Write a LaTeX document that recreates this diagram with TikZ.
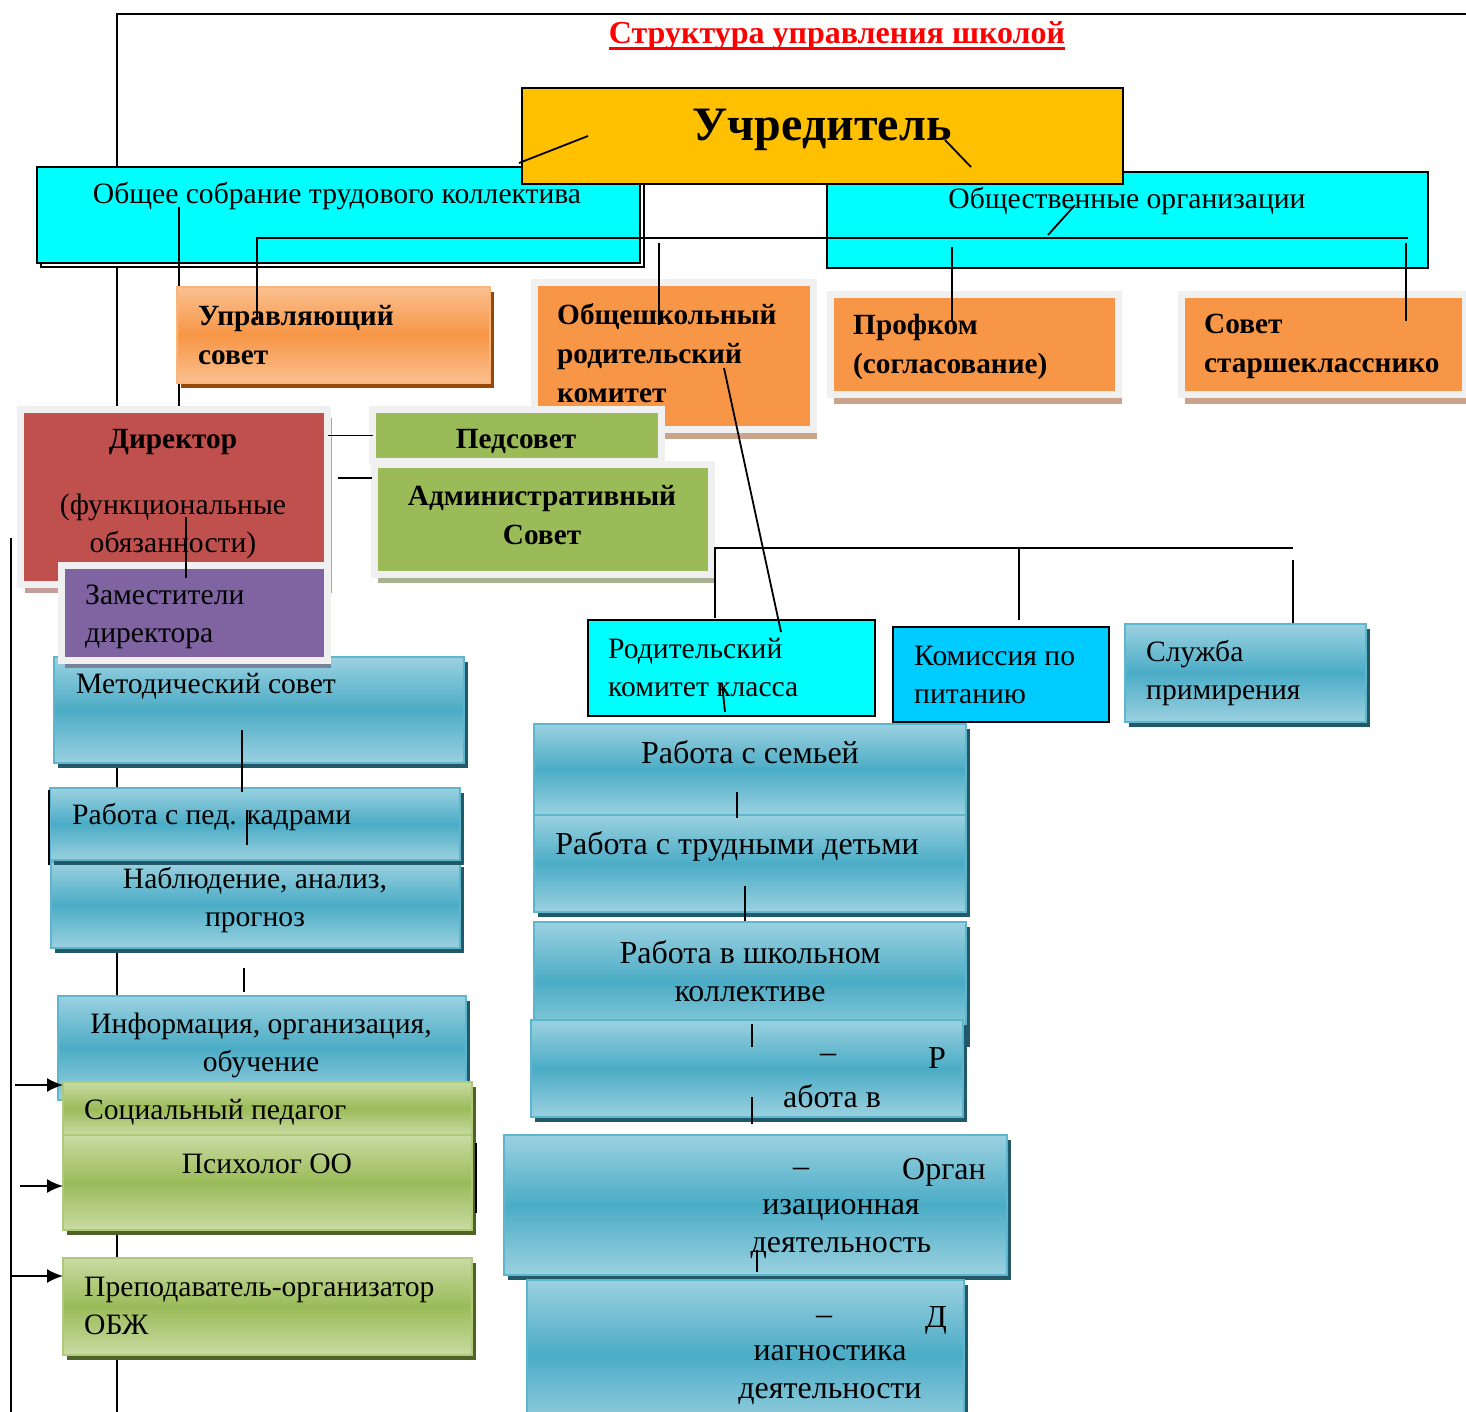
\documentclass[tikz,border=0pt]{standalone}
\usepackage{fontspec}
\setmainfont{Liberation Serif}
\usetikzlibrary{shadows, arrows.meta}

\definecolor{cGold}{HTML}{FFC000}
\definecolor{cAqua}{HTML}{00FFFF}
\definecolor{cSky}{HTML}{00CCFF}
\definecolor{cOrng}{HTML}{F79646}
\definecolor{cOrngL}{HTML}{FAC090}
\definecolor{cOrngD}{HTML}{984807}
\definecolor{cTanSh}{HTML}{C9A38A}
\definecolor{cFrm}{HTML}{F0F0F0}
\definecolor{cRed}{HTML}{C0504D}
\definecolor{cRedSh}{HTML}{C59E9C}
\definecolor{cPurp}{HTML}{8064A2}
\definecolor{cPurpSh}{HTML}{76839A}
\definecolor{cGrn}{HTML}{9BBB59}
\definecolor{cGrnL}{HTML}{C9DBA3}
\definecolor{cGrnD}{HTML}{4F6228}
\definecolor{cGrnSh}{HTML}{A9B194}
\definecolor{cBlu}{HTML}{4BACC6}
\definecolor{cBluL}{HTML}{9BD1E0}
\definecolor{cBluB}{HTML}{5DB6CE}
\definecolor{cBluD}{HTML}{215968}

\tikzset{
  box/.style={anchor=north west, inner sep=0pt, outer sep=0pt},
  plainbox/.style={box, draw=black, line width=1.8pt},
  framebox/.style={box, draw=cFrm, line width=7pt},
  bluebox/.style={box, draw=cBluB, line width=1.5pt,
    top color=cBluL, bottom color=cBluL, middle color=cBlu,
    drop shadow={shadow xshift=4pt, shadow yshift=-5pt, fill=cBluD, opacity=1}},
  greenbox/.style={box, draw=cGrn!80!white, line width=1.5pt,
    top color=cGrnL, bottom color=cGrnL, middle color=cGrn,
    drop shadow={shadow xshift=4pt, shadow yshift=-5pt, fill=cGrnD, opacity=1}},
  orangebox/.style={box, draw=cOrng!70!white, line width=1.5pt,
    top color=cOrngL, bottom color=cOrngL, middle color=cOrng,
    drop shadow={shadow xshift=4pt, shadow yshift=-5pt, fill=cOrngD, opacity=1}},
  txt/.style={font=\fontsize{29.6}{38}\selectfont, inner sep=0pt},
  rtxt/.style={font=\fontsize{32}{38}\selectfont, inner sep=0pt},
  btxt/.style={font=\fontsize{29.3}{39}\selectfont\bfseries, inner sep=0pt},
  wire/.style={line width=1.8pt},
  arr/.style={wire, -{Latex[length=16pt, width=14pt]}}
}

\begin{document}
\begin{tikzpicture}[x=1pt, y=-1pt]
\useasboundingbox (0,0) rectangle (1466,1412);

% frame lines
\coordinate (fa) at (117,1412);
\coordinate (fb) at (117,14);
\coordinate (fc) at (1466,14);
\draw[wire] (fa) -- (fb) -- (fc);
\coordinate (la) at (11,538);
\coordinate (lb) at (11,1412);
\draw[wire] (la) -- (lb);

\node[font=\fontsize{32}{36}\selectfont\bfseries, text=red, inner sep=0pt] (title) at (837,36) {Структура управления школой};
\draw[red, line width=3pt] ([yshift=-5pt]title.base west) -- ([yshift=-5pt]title.base east);

% top level
\node[plainbox, fill=cAqua, minimum width=603, minimum height=96,
  drop shadow={shadow xshift=4pt, shadow yshift=-4pt, fill=white, draw=black, opacity=1}] (obsch) at (37,167) {};
\node[plainbox, fill=cAqua, minimum width=601, minimum height=96] (obshorg) at (827,172) {};
\node[plainbox, fill=cGold, minimum width=601, minimum height=96] (uchr) at (522,88) {};
\node[txt] (obschT) at (337,196) {Общее собрание трудового коллектива};
\node[txt] (obshorgT) at (1127,201) {Общественные организации};
\node[font=\fontsize{48}{52}\selectfont\bfseries] (uchrT) at (822,130) {Учредитель};

\coordinate (s1) at (179,207);
\coordinate (s2) at (179,433);
\draw[wire] (s1) -- (s2);

% councils
\node[orangebox, minimum width=313, minimum height=96] (upr) at (177,287) {};
\node[btxt, align=left, anchor=west] (uprT) at (198,335) {Управляющий\\совет};

\node[framebox, fill=cOrng, minimum width=279, minimum height=147,
  drop shadow={shadow xshift=3pt, shadow yshift=-9pt, fill=cTanSh, opacity=1}] (obshrod) at (534.5,282.5) {};
\node[btxt, align=left, anchor=west] (obshrodT) at (557,353) {Общешкольный\\родительский\\комитет};

\node[framebox, fill=cOrng, minimum width=288, minimum height=100,
  drop shadow={shadow xshift=3pt, shadow yshift=-9pt, fill=cTanSh, opacity=1}] (profkom) at (830.5,294.5) {};
\node[btxt, align=left, anchor=west] (profkomT) at (853,347) {Профком\\(согласование)};

\node[framebox, fill=cOrng, minimum width=284, minimum height=100,
  drop shadow={shadow xshift=3pt, shadow yshift=-9pt, fill=cTanSh, opacity=1}] (starsh) at (1181.5,294.5) {};
\node[btxt, align=left, anchor=west] (starshT) at (1204,346) {Совет\\старшекласснико};

% connectors of the top level
\coordinate (h1) at (257,238);
\coordinate (h2) at (1408,238);
\coordinate (h3) at (257,320);
\draw[wire] (h3) -- (h1) -- (h2);
\coordinate (v1) at (659,243);
\coordinate (v2) at (659,325);
\draw[wire] (v1) -- (v2);
\coordinate (v3) at (952,247);
\coordinate (v4) at (952,321);
\draw[wire] (v3) -- (v4);
\coordinate (v5) at (1406,243);
\coordinate (v6) at (1406,321);
\draw[wire] (v5) -- (v6);
\coordinate (d1) at (519,163);
\coordinate (d2) at (588,136);
\draw[wire] (d1) -- (d2);
\coordinate (d3) at (945,140);
\coordinate (d4) at (971,167);
\draw[wire] (d3) -- (d4);
\coordinate (d5) at (1075,205);
\coordinate (d6) at (1048,235);
\draw[wire] (d5) -- (d6);

% methodical council (under the deputies)
\node[bluebox, minimum width=410, minimum height=106] (metod) at (54,657) {};
\node[txt, anchor=west] (metodT) at (76,686) {Методический совет};

% director
\node[framebox, fill=cRed, minimum width=307, minimum height=175,
  drop shadow={shadow xshift=4pt, shadow yshift=-8pt, fill=cRedSh, opacity=1}] (dir) at (20.5,409.5) {};
\node[btxt] (dirT) at (173,442) {Директор};
\node[txt, align=center] (dirF) at (173,526) {(функциональные\\обязанности)};

\node[framebox, fill=cGrn, minimum width=289, minimum height=52] (ped) at (372.5,409.5) {};
\node[btxt] (pedT) at (516,441) {Педсовет};
\node[framebox, fill=cGrn, minimum width=337, minimum height=110,
  drop shadow={shadow xshift=3pt, shadow yshift=-8pt, fill=cGrnSh, opacity=1}] (adm) at (374.5,464.5) {};
\node[btxt, align=center] (admT) at (542,515) {Административный\\Совет};

\node[framebox, fill=cPurp, minimum width=266, minimum height=95,
  drop shadow={shadow xshift=3pt, shadow yshift=-7pt, fill=cPurpSh, opacity=1}] (zam) at (61.5,565.5) {};
\node[txt, align=left, anchor=west] (zamT) at (85,617) {Заместители\\директора};

\coordinate (z1) at (186,517);
\coordinate (z2) at (186,578);
\draw[wire] (z1) -- (z2);
\draw[wire] (dir.east |- ped.west) -- (ped.west);
\coordinate (a1) at (338,478);
\coordinate (a2) at (372,478);
\draw[wire] (a1) -- (a2);

% lines under the administrative council
\coordinate (b1) at (715,618);
\coordinate (b2) at (715,548);
\coordinate (b3) at (1293,548);
\draw[wire] (b1) -- (b2) -- (b3);
\coordinate (b4) at (1019,548);
\coordinate (b5) at (1019,620);
\draw[wire] (b4) -- (b5);
\coordinate (b6) at (1293,560);
\coordinate (b7) at (1293,628);
\draw[wire] (b6) -- (b7);

\node[plainbox, fill=cAqua, minimum width=287, minimum height=96] (rodkl) at (588,620) {};
\node[txt, align=left, anchor=west] (rodklT) at (608,668) {Родительский\\комитет класса};
\node[plainbox, fill=cSky, minimum width=216, minimum height=95] (pitan) at (893,627) {};
\node[txt, align=left, anchor=west] (pitanT) at (914,675) {Комиссия по\\питанию};
\node[bluebox, minimum width=241, minimum height=98] (primir) at (1125,624) {};
\node[txt, align=left, anchor=west] (primirT) at (1146,673) {Служба\\примирения};

\coordinate (r1) at (724,368);
\coordinate (r2) at (781,632);
\draw[wire] (r1) -- (r2);

% left column
\node[bluebox, minimum width=409, minimum height=86] (nabl) at (51,862) {};
\node[txt, align=center] (nablT) at (255,900) {Наблюдение, анализ,\\прогноз};
\node[bluebox, minimum width=410, minimum height=72] (kadr) at (50,788) {};
\node[txt, anchor=west] (kadrT) at (72,817) {Работа с пед. кадрами};
\node[bluebox, minimum width=408, minimum height=104] (inform) at (58,996) {};
\node[txt, align=center] (informT) at (261,1045) {Информация, организация,\\обучение};
\node[greenbox, minimum width=409, minimum height=53] (socped) at (63,1082) {};
\node[txt, anchor=west] (socpedT) at (84,1112) {Социальный педагог};
\node[greenbox, minimum width=409, minimum height=95] (psih) at (63,1135) {};
\node[txt] (psihT) at (267,1164) {Психолог ОО};
\node[greenbox, minimum width=409, minimum height=97] (obzh) at (63,1258) {};
\node[txt, align=left, anchor=west] (obzhT) at (84,1306) {Преподаватель-организатор\\ОБЖ};

\coordinate (k1) at (242,730);
\coordinate (k2) at (242,792);
\draw[wire] (k1) -- (k2);
\coordinate (k3) at (247,810);
\coordinate (k4) at (247,845);
\draw[wire] (k3) -- (k4);
\coordinate (k5) at (244,968);
\coordinate (k6) at (244,992);
\draw[wire] (k5) -- (k6);
\coordinate (k7) at (49,790);
\coordinate (k8) at (49,865);
\draw[wire] (k7) -- (k8);
\coordinate (k9) at (476,1143);
\coordinate (k10) at (476,1213);
\draw[wire] (k9) -- (k10);

\coordinate (p1) at (15,1085);
\draw[arr] (p1) -- (socped.west |- p1);
\coordinate (p2) at (20,1186);
\draw[arr] (p2) -- (psih.west |- p2);
\coordinate (p3) at (11,1276);
\draw[arr] (p3) -- (obzh.west |- p3);

% right column
\node[bluebox, minimum width=432, minimum height=91] (semya) at (534,724) {};
\node[rtxt] (semyaT) at (750,752) {Работа с семьей};
\node[bluebox, minimum width=432, minimum height=97] (trud) at (534,815) {};
\node[rtxt] (trudT) at (737,846) {Работа с трудными детьми};
\node[bluebox, minimum width=432, minimum height=120] (shkol) at (534,922) {};
\node[rtxt, align=center] (shkolT) at (750,971) {Работа в школьном\\коллективе};
\node[bluebox, minimum width=432, minimum height=97] (abota) at (531,1020) {};
\node[rtxt] (abotaD) at (828,1058) {–};
\node[rtxt] (abotaR) at (937,1058) {Р};
\node[rtxt] (abotaT) at (832,1096) {абота в};
\node[bluebox, minimum width=503, minimum height=140] (organ) at (504,1135) {};
\node[rtxt] (organD) at (801,1172) {–};
\node[rtxt] (organO) at (944,1172) {Орган};
\node[rtxt, align=center] (organT) at (841,1229) {изационная\\деятельность};
\node[bluebox, minimum width=437, minimum height=150] (diag) at (527,1280) {};
\node[rtxt] (diagD) at (824,1320) {–};
\node[rtxt] (diagL) at (936,1320) {Д};
\node[rtxt, align=center] (diagT) at (830,1375) {иагностика\\деятельности};

\coordinate (t1) at (722,683);
\coordinate (t2) at (725,712);
\draw[wire] (t1) -- (t2);
\coordinate (t3) at (737,792);
\coordinate (t4) at (737,818);
\draw[wire] (t3) -- (t4);
\coordinate (t5) at (745,886);
\coordinate (t6) at (745,921);
\draw[wire] (t5) -- (t6);
\coordinate (t7) at (752,1024);
\coordinate (t8) at (752,1047);
\draw[wire] (t7) -- (t8);
\coordinate (t9) at (752,1097);
\coordinate (t10) at (752,1124);
\draw[wire] (t9) -- (t10);
\coordinate (t11) at (757,1250);
\coordinate (t12) at (757,1272);
\draw[wire] (t11) -- (t12);
\end{tikzpicture}
\end{document}
